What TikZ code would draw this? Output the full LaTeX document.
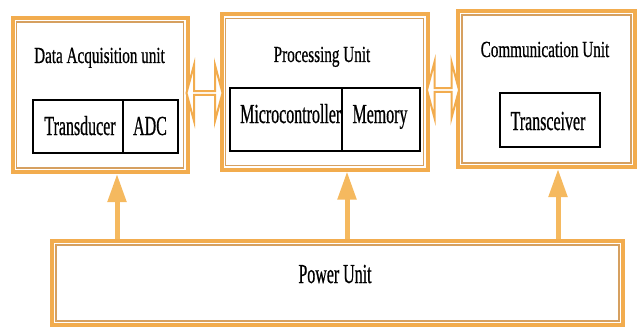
\documentclass[tikz,border=0pt]{standalone}
\usepackage{fontspec}
\newfontfamily\titlefont[FakeStretch=0.66,FakeBold=0.6]{Liberation Serif}
\newfontfamily\innerfont[FakeStretch=0.58,FakeBold=0.6]{Liberation Serif}
\usetikzlibrary{arrows.meta,shapes.arrows}
\definecolor{boxorange}{RGB}{242,172,78}
\definecolor{innerorange}{RGB}{214,160,96}
\definecolor{arroworange}{RGB}{245,185,95}
\tikzset{
  ubox/.style={draw=boxorange, line width=4pt, fill=white, rectangle, inner sep=0pt},
  innerline/.style={draw=innerorange, line width=1.1pt},
  cell/.style={draw=black, line width=1.4pt, rectangle, inner sep=0pt},
  ttext/.style={font=\titlefont\fontsize{23}{25}\selectfont, anchor=base, inner sep=0pt},
  itext/.style={font=\innerfont\fontsize{27.5}{29}\selectfont, anchor=base, inner sep=0pt},
  pwr/.style={draw=arroworange, line width=5pt, -{Triangle[length=28pt,width=18pt]}},
  darrow/.style={double arrow, draw=boxorange, fill=white, line width=2pt, inner sep=0pt,
    double arrow head extend=14pt, double arrow tip angle=150}
}
\begin{document}
\begin{tikzpicture}[x=1pt,y=-1pt]
\useasboundingbox (0,0) rectangle (639,329);
% unit boxes
\node[ubox, minimum width=175pt, minimum height=154pt] (da) at (100,95) {};
\node[ubox, minimum width=206pt, minimum height=155pt] (pu) at (324.5,92) {};
\node[ubox, minimum width=177pt, minimum height=156pt] (cu) at (546.5,89) {};
\node[ubox, minimum width=571pt, minimum height=84pt] (pw) at (337.5,283) {};
\foreach \b in {da,pu,cu,pw}{
  \draw[innerline] ([shift={(6,6)}]\b.north west) rectangle ([shift={(-6,-6)}]\b.south east);
}
% titles
\node[ttext] (dat) at (99.5,63) {Data Acquisition unit};
\node[ttext] (put) at (322,62) {Processing Unit};
\node[ttext] (cut) at (545,57) {Communication Unit};
% inner cells
\node[cell, minimum width=90pt, minimum height=53pt] (td) at (78,126.5) {};
\node[cell, minimum width=55pt, minimum height=53pt] (adc) at (150.5,126.5) {};
\node[cell, minimum width=112pt, minimum height=63pt] (mc) at (286,119.5) {};
\node[cell, minimum width=78pt, minimum height=63pt] (mem) at (381,119.5) {};
\node[cell, minimum width=100pt, minimum height=54pt] (tr) at (550,120) {};
\node[itext] (tdt) at (80,135) {Transducer};
\node[itext] (adct) at (150,135) {ADC};
\node[itext, anchor=base west] (mct) at (240,123) {Microcontroller};
\draw[black, line width=1.4pt] (mc.north east) -- (mc.south east);
\node[itext] (memt) at (380,123) {Memory};
\node[itext] (trt) at (548,130) {Transceiver};
\node[itext] (pwt) at (335,283) {Power Unit};
% double arrows between units
\node[darrow, minimum height=36pt, minimum width=56pt] (a1) at (204.5,93) {};
\node[darrow, minimum height=32pt, minimum width=56pt] (a2) at (443,90) {};
% power arrows
\draw[pwr] (pw.north -| 117,0) -- (da.south -| 117,0);
\draw[pwr] (pw.north -| 347,0) -- (pu.south -| 347,0);
\draw[pwr] (pw.north -| 558,0) -- (cu.south -| 558,0);
\end{tikzpicture}
\end{document}
